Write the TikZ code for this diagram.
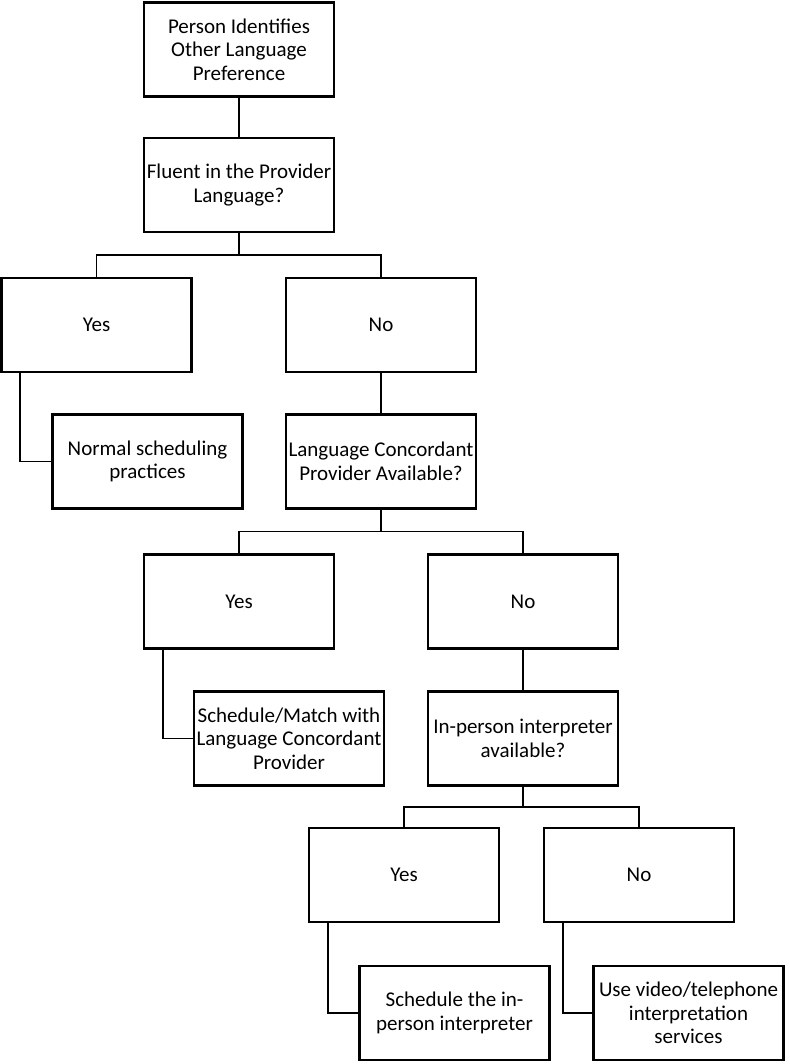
\documentclass[tikz,border=0pt]{standalone}
\usepackage{fontspec}
\setmainfont{Carlito}
\usetikzlibrary{calc}
\begin{document}
\begin{tikzpicture}[x=1pt,y=-1pt,
  box/.style={draw=black,line width=2.6pt,fill=white,minimum width=190pt,minimum height=94pt,align=center,inner sep=1pt,font=\fontsize{21}{23.5}\selectfont},
  conn/.style={draw=black,line width=1.6pt}]
\useasboundingbox (0,0) rectangle (789,1064);
\node[box] (start) at (239,49.5) {Person Identifies\\Other Language\\Preference};
\node[box] (fluent) at (239,185) {Fluent in the Provider\\Language?};
\node[box] (yes1) at (96.5,325) {Yes};
\node[box] (no1) at (381,325) {No};
\node[box] (normal) at (147.5,461.5) {Normal scheduling\\practices};
\node[box] (lcp) at (381,461.5) {Language Concordant\\Provider Available?};
\node[box] (yes2) at (239,601.5) {Yes};
\node[box] (no2) at (523,601.5) {No};
\node[box] (match) at (289,738.5) {Schedule/Match with\\Language Concordant\\Provider};
\node[box] (inperson) at (523,738.5) {In-person interpreter\\available?};
\node[box] (yes3) at (404,875) {Yes};
\node[box] (no3) at (639,875) {No};
\node[box] (sched) at (454.5,1013) {Schedule the in-\\person interpreter};
\node[box] (video) at (688.5,1013) {Use video/telephone\\interpretation\\services};

\draw[conn] (start.south) -- (fluent.north);
\coordinate (b1) at ($(fluent.south)!0.5!(fluent.south|-yes1.north)$);
\draw[conn] (fluent.south) -- (b1);
\draw[conn] (yes1.north) |- (b1) -| (no1.north);
\draw[conn] ($(yes1.south west)+(20,0)$) |- (normal.west);
\draw[conn] (no1.south) -- (lcp.north);

\coordinate (b2) at ($(lcp.south)!0.5!(lcp.south|-yes2.north)$);
\draw[conn] (lcp.south) -- (b2);
\draw[conn] (yes2.north) |- (b2) -| (no2.north);
\draw[conn] ($(yes2.south west)+(20,0)$) |- (match.west);
\draw[conn] (no2.south) -- (inperson.north);

\coordinate (b3) at ($(inperson.south)!0.5!(inperson.south|-yes3.north)$);
\draw[conn] (inperson.south) -- (b3);
\draw[conn] (yes3.north) |- (b3) -| (no3.north);
\draw[conn] ($(yes3.south west)+(20,0)$) |- (sched.west);
\draw[conn] ($(no3.south west)+(20,0)$) |- (video.west);
\end{tikzpicture}
\end{document}
